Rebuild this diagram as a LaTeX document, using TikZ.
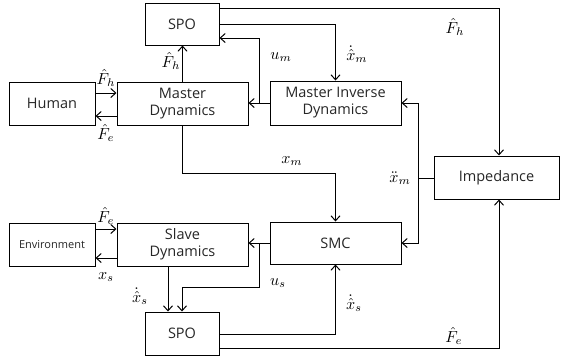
\documentclass[tikz,border=0pt]{standalone}
\usepackage[no-math]{fontspec}
\setmainfont{Open Sans}
\usetikzlibrary{arrows.meta,calc}
\begin{document}
\begin{tikzpicture}[x=1pt,y=-1pt,
  box/.style={draw, line width=1pt, inner sep=0pt, align=center, text=black!85, font=\fontsize{14.5}{17}\selectfont},
  lbl/.style={inner sep=0pt, scale=1.6, transform shape},
  arr/.style={-{Straight Barb[length=5pt,width=9pt]}, line width=1pt},
  ln/.style={line width=1pt}]
\useasboundingbox (0,0) rectangle (562,360);
% boxes
\node[box, minimum width=74pt, minimum height=42pt] (spo1) at (182,24) {SPO};
\node[box, minimum width=86pt, minimum height=43pt] (human) at (52,103.5) {Human};
\node[box, minimum width=131pt, minimum height=43pt] (md) at (182.5,103.5) {Master\\Dynamics};
\node[box, minimum width=131pt, minimum height=44pt] (mid) at (335.5,103) {Master Inverse\\Dynamics};
\node[box, minimum width=125pt, minimum height=43pt] (imp) at (496.5,177.5) {Impedance};
\node[box, minimum width=86pt, minimum height=43pt, font=\fontsize{11}{13}\selectfont] (env) at (52,244.5) {Environment};
\node[box, minimum width=131pt, minimum height=43pt] (sd) at (182.5,244.5) {Slave\\Dynamics};
\node[box, minimum width=131pt, minimum height=42pt] (smc) at (335.5,243) {SMC};
\node[box, minimum width=74pt, minimum height=43pt] (spo2) at (182,333.5) {SPO};
% junctions
\coordinate (um) at (259,103);
\coordinate (ddx) at (418,178);
\coordinate (us) at (259,243);
% connectors
\draw[arr] (human.east |- 0,93) -- (md.west |- 0,93);
\draw[arr] (md.west |- 0,116) -- (human.east |- 0,116);
\draw[arr] (md.north) -- (spo1.south -| md.north);
\draw[arr] (spo1.east |- 0,8) -| (imp.north -| 499,0);
\draw[arr] (spo1.east |- 0,24) -| (mid.north);
\draw[arr] (mid.west) -- (md.east |- mid.west);
\draw[arr] (um) |- (spo1.east |- 0,38);
\draw[arr] (md.south) -- (md.south |- 0,173) -| (smc.north);
\draw[ln] (imp.west |- ddx) -- (ddx);
\draw[arr] (ddx) |- (mid.east);
\draw[arr] (ddx) |- (smc.east);
\draw[arr] (smc.west) -- (sd.east |- smc.west);
\draw[arr] (us) -- (259,287) -| (spo2.north);
\draw[arr] (sd.south -| 168,0) -- (spo2.north -| 168,0);
\draw[arr] (env.east |- 0,229) -- (sd.west |- 0,229);
\draw[arr] (sd.west |- 0,258) -- (env.east |- 0,258);
\draw[arr] (spo2.east |- 0,334) -| (smc.south);
\draw[arr] (spo2.east |- 0,348) -| (imp.south -| 499,0);
% labels
\node[lbl] (l1) at (106,78) {$\hat{F}_h$};
\node[lbl] (l2) at (106,133) {$\hat{F}_e$};
\node[lbl] (l3) at (171,61) {$\hat{F}_h$};
\node[lbl] (l4) at (455,27) {$\hat{F}_h$};
\node[lbl] (l5) at (357,54) {$\dot{\hat{x}}_m$};
\node[lbl] (l6) at (281,57) {$u_m$};
\node[lbl] (l7) at (292,161) {$x_m$};
\node[lbl] (l8) at (400,178) {$\ddot{x}_m$};
\node[lbl] (l9) at (106,216) {$\hat{F}_e$};
\node[lbl] (l10) at (106,277) {$x_s$};
\node[lbl] (l11) at (140,296) {$\dot{\hat{x}}_s$};
\node[lbl] (l12) at (278,283) {$u_s$};
\node[lbl] (l13) at (354,303) {$\dot{\hat{x}}_s$};
\node[lbl] (l14) at (454,336) {$\hat{F}_e$};
\end{tikzpicture}
\end{document}
